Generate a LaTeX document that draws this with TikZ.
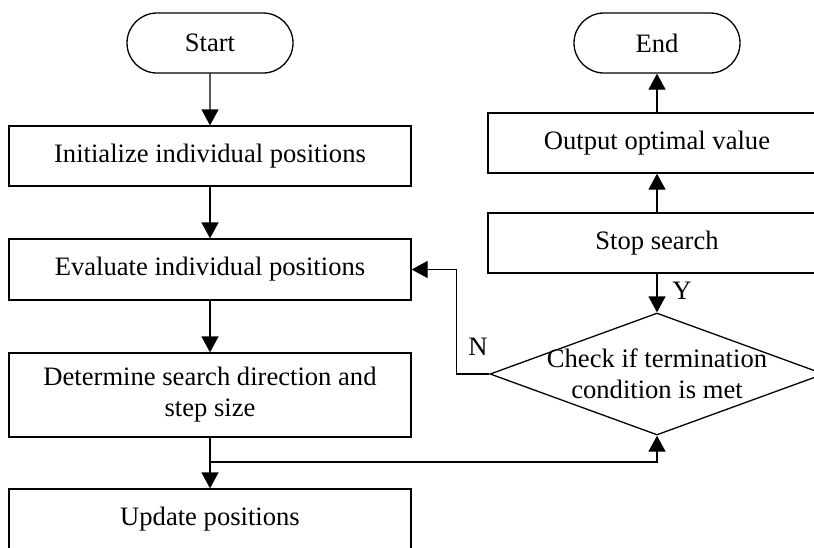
\documentclass[tikz,border=0pt]{standalone}
\usepackage{fontspec}
\setmainfont{Liberation Serif}
\usetikzlibrary{shapes.misc, shapes.geometric, arrows.meta, positioning, calc}

\tikzset{
  proc/.style={draw, rectangle, minimum width=402pt, minimum height=60pt, align=center, inner sep=0pt},
  term/.style={draw, rounded rectangle, minimum width=166pt, minimum height=60pt, inner sep=0pt},
  flow/.style={-{Triangle[length=16pt,width=17pt]}},
}

\begin{document}
\begin{tikzpicture}[x=1pt, y=-1pt, line width=1.3pt, font=\fontsize{26.6}{31}\selectfont]
        \useasboundingbox (0,0) rectangle (814,547);

        % left column
        \node[term] (start) at (210,43) {Start};
        \node[proc] (init) at (210,156) {Initialize individual positions};
        \node[proc, minimum height=61pt] (eval) at (210,269.5) {Evaluate individual positions};
        \node[proc, minimum height=84pt] (det) at (210,395) {Determine search direction and\\step size};
        \node[proc] (upd) at (210,519) {Update positions};

        % right column
        \node[term] (end) at (657,43) {End};
        \node[proc, minimum width=338pt] (out) at (657,143) {Output optimal value};
        \node[proc, minimum width=338pt] (stop) at (657,243) {Stop search};
        \node[draw, diamond, minimum width=334pt, minimum height=122pt, inner sep=0pt] (chk) at (657,374) {};
        \node[align=center] (chktext) at (657,374) {Check if termination\\condition is met};

        \node (y) at (682,291) {Y};
        \node (n) at (478,347) {N};
        \coordinate (split) at (210,462);

        \draw[flow] (start) -- (init);
        \draw[flow] (init) -- (eval);
        \draw[flow] (eval) -- (det);
        \draw[flow] (det) -- (upd);
        \draw[flow] (split) -| (chk.south);
        \draw[flow] (chk.west) -- ++(-33,0) |- (eval.east);
        \draw[flow] (stop) -- (chk);
        \draw[flow] (stop) -- (out);
        \draw[flow] (out) -- (end);
\end{tikzpicture}
\end{document}
